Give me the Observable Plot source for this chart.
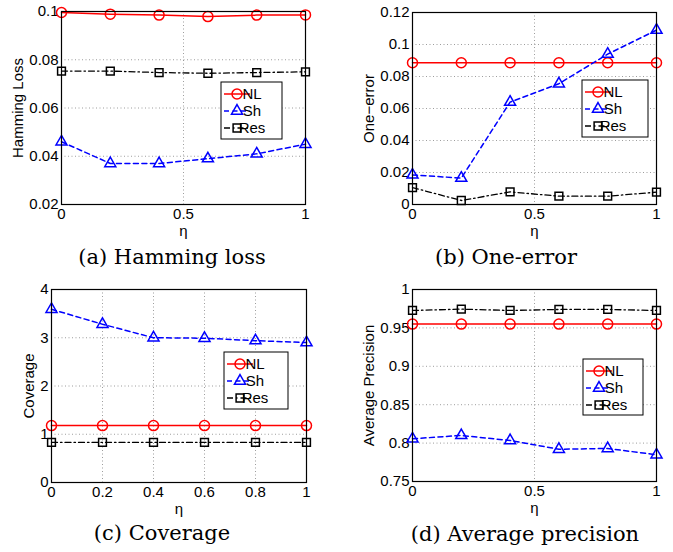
<!DOCTYPE html>
<html><head><meta charset="utf-8">
<script src="https://cdn.jsdelivr.net/npm/d3@7"></script>
<script src="https://cdn.jsdelivr.net/npm/@observablehq/plot@0.6"></script>
<style>
body{margin:0;background:#fff;}
#wrap{position:relative;width:673px;height:552px;overflow:hidden;background:#fff;font-family:"Liberation Sans",Arial,sans-serif;}
.panel{position:absolute;}
.cap{position:absolute;width:320px;text-align:center;font-family:"DejaVu Serif",serif;font-size:21px;line-height:22px;white-space:nowrap;color:#000;}
</style></head><body><div id="wrap"></div>
<script>
// ---- data ----
const eta = [0, 0.2, 0.4, 0.6, 0.8, 1];
const seriesNames = ["NL", "Sh", "Res"];

const hammingNL  = [0.0996, 0.0989, 0.0985, 0.0979, 0.0985, 0.0986];
const hammingSh  = [0.046, 0.037, 0.037, 0.039, 0.041, 0.045];
const hammingRes = [0.0753, 0.0753, 0.0747, 0.0744, 0.0747, 0.075];

const oneErrNL  = [0.0886, 0.0886, 0.0886, 0.0886, 0.0886, 0.0886];
const oneErrSh  = [0.0185, 0.0165, 0.064, 0.0755, 0.094, 0.109];
const oneErrRes = [0.0106, 0.0025, 0.0079, 0.0052, 0.0052, 0.0077];

const coverageNL  = [1.18, 1.18, 1.18, 1.18, 1.18, 1.18];
const coverageSh  = [3.59, 3.28, 3.0, 2.99, 2.94, 2.9];
const coverageRes = [0.83, 0.83, 0.83, 0.83, 0.83, 0.83];

const precisionNL  = [0.955, 0.955, 0.955, 0.955, 0.955, 0.955];
const precisionSh  = [0.8056, 0.81, 0.8034, 0.792, 0.793, 0.7848];
const precisionRes = [0.9727, 0.9744, 0.9727, 0.974, 0.974, 0.9727];

const xTicksCoarse = [0, 0.5, 1];
const xTicksFine = [0, 0.2, 0.4, 0.6, 0.8, 1];
const hammingTicks = [0.02, 0.04, 0.06, 0.08, 0.1];
const oneErrTicks = [0, 0.02, 0.04, 0.06, 0.08, 0.1, 0.12];
const coverageTicks = [0, 1, 2, 3, 4];
const precisionTicks = [0.75, 0.8, 0.85, 0.9, 0.95, 1];

const yLabels = ["Hamming Loss", "One\u2212error", "Coverage", "Average Precision"];
const xLabel = "\u03b7";
const captions = ["(a) Hamming loss", "(b) One-error", "(c) Coverage", "(d) Average precision"];

// ---- styles ----
const FS = 15;
const styles = {
  NL:  {color: "#ff0000", dash: null, width: 1.5, symbol: "circle", r: 5},
  Sh:  {color: "#0000ff", dash: "5,3.5", width: 1.5, symbol: "triangle", r: 4.1},
  Res: {color: "#000000", dash: "6,3,1.5,3", width: 1.3, symbol: "square", r: 4.4}
};

const fmt = d => String(+d.toFixed(3));

const panels = [
  {left: 0, top: 0, ml: 61, mr: 31, mt: 11, mb: 36, yDomain: [0.02, 0.1], yTicks: hammingTicks, xTicks: xTicksCoarse,
   values: [hammingNL, hammingSh, hammingRes], yLabel: yLabels[0], yDx: -43,
   legend: {x: 221, y: 82, w: 61, h: 57}, cap: {cx: 172, cy: 257, text: captions[0]}},
  {left: 336, top: 0, ml: 76, mr: 16, mt: 12, mb: 36, yDomain: [0, 0.12], yTicks: oneErrTicks, xTicks: xTicksCoarse,
   values: [oneErrNL, oneErrSh, oneErrRes], yLabel: yLabels[1], yDx: -43,
   legend: {x: 246, y: 80, w: 66, h: 57}, cap: {cx: 506, cy: 257, text: captions[1]}},
  {left: 0, top: 276, ml: 51, mr: 30, mt: 13, mb: 34, yDomain: [0, 4], yTicks: coverageTicks, xTicks: xTicksFine,
   values: [coverageNL, coverageSh, coverageRes], yLabel: yLabels[2], yDx: -22,
   legend: {x: 224, y: 76, w: 64, h: 57}, cap: {cx: 162, cy: 533, text: captions[2]}},
  {left: 336, top: 276, ml: 76, mr: 16, mt: 13, mb: 35, yDomain: [0.75, 1], yTicks: precisionTicks, xTicks: xTicksCoarse,
   values: [precisionNL, precisionSh, precisionRes], yLabel: yLabels[3], yDx: -43,
   legend: {x: 247, y: 83, w: 60, h: 56}, cap: {cx: 525, cy: 534, text: captions[3]}}
];

const wrap = document.getElementById("wrap");

panels.forEach(p => {
  const seriesMarks = [];
  seriesNames.forEach((name, i) => {
    const s = styles[name];
    const data = eta.map((x, j) => ({x, y: p.values[i][j]}));
    seriesMarks.push(Plot.line(data, {x: "x", y: "y", stroke: s.color, strokeWidth: s.width, strokeDasharray: s.dash}));
    seriesMarks.push(Plot.dot(data, {x: "x", y: "y", stroke: s.color, strokeWidth: 1.5, fill: "none", symbol: s.symbol, r: s.r}));
  });

  const plot = Plot.plot({
    width: 336, height: 240,
    marginLeft: p.ml, marginRight: p.mr, marginTop: p.mt, marginBottom: p.mb,
    style: {fontFamily: "'Liberation Sans', Arial, sans-serif", fontSize: FS + "px", color: "#000", background: "#fff", overflow: "visible"},
    x: {domain: [0, 1]},
    y: {domain: p.yDomain},
    marks: [
      Plot.gridX(p.xTicks, {stroke: "#777", strokeOpacity: 0.9, strokeDasharray: "1,2.5", strokeWidth: 0.8}),
      Plot.gridY(p.yTicks, {stroke: "#777", strokeOpacity: 0.9, strokeDasharray: "1,2.5", strokeWidth: 0.8}),
      Plot.axisX(p.xTicks, {tickSize: 0, tickPadding: 4, tickFormat: fmt, label: null, fontSize: FS}),
      Plot.axisY(p.yTicks, {tickSize: 0, tickPadding: 3, tickFormat: fmt, label: null, fontSize: FS}),
      Plot.text([xLabel], {text: d => d, frameAnchor: "bottom", lineAnchor: "middle", textAnchor: "middle", dy: 27, fontSize: FS}),
      Plot.text([p.yLabel], {text: d => d, frameAnchor: "left", lineAnchor: "middle", textAnchor: "middle", rotate: -90, dx: p.yDx, fontSize: FS}),
      ...seriesMarks,
      Plot.frame({stroke: "#000", strokeWidth: 1.2})
    ]
  });

  // legend box
  const svg = d3.select(plot);
  const L = p.legend;
  const g = svg.append("g");
  g.append("rect").attr("x", L.x).attr("y", L.y).attr("width", L.w).attr("height", L.h)
    .attr("fill", "#fff").attr("stroke", "#000").attr("stroke-width", 1);
  const symMap = {circle: d3.symbolCircle, triangle: d3.symbolTriangle, square: d3.symbolSquare};
  seriesNames.forEach((name, i) => {
    const s = styles[name];
    const cy = L.y + 12 + i * 17;
    const x0 = L.x + 3, x1 = L.x + 29;
    g.append("line").attr("x1", x0).attr("x2", x1).attr("y1", cy).attr("y2", cy)
      .attr("stroke", s.color).attr("stroke-width", s.width).attr("stroke-dasharray", s.dash);
    g.append("path").attr("transform", `translate(${(x0 + x1) / 2},${cy})`)
      .attr("d", d3.symbol(symMap[s.symbol], s.r * s.r * Math.PI)())
      .attr("fill", "none").attr("stroke", s.color).attr("stroke-width", 1.5);
    g.append("text").attr("x", L.x + 31).attr("y", cy).attr("dy", "0.35em")
      .attr("font-size", FS).attr("fill", "#000").text(name);
  });

  const div = document.createElement("div");
  div.className = "panel";
  div.style.left = p.left + "px";
  div.style.top = p.top + "px";
  div.appendChild(plot);
  wrap.appendChild(div);

  const cap = document.createElement("div");
  cap.className = "cap";
  cap.style.left = (p.cap.cx - 160) + "px";
  cap.style.top = (p.cap.cy - 11) + "px";
  cap.textContent = p.cap.text;
  wrap.appendChild(cap);
});
</script>
</body></html>
